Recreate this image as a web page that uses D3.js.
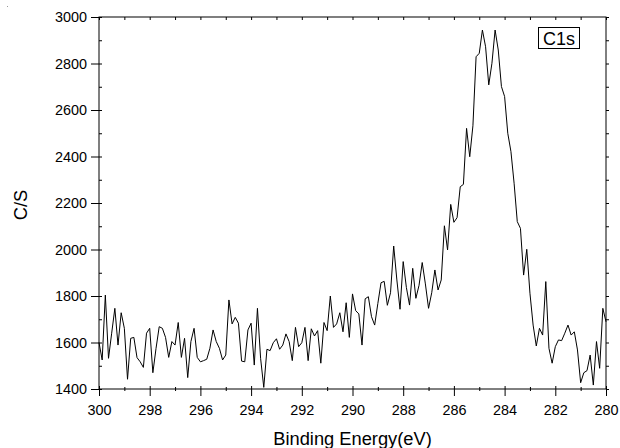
<!DOCTYPE html>
<html>
<head>
<meta charset="utf-8">
<script src="https://cdn.jsdelivr.net/npm/d3@7"></script>
<style>
  html, body { margin: 0; padding: 0; background: #fff; }
  svg { display: block; font-family: "Liberation Sans", Arial, sans-serif; }
</style>
</head>
<body>
<svg id="chart" width="620" height="448"></svg>
<script>
// C1s XPS spectrum: binding energy (eV) and counts per second
const energy = [
  300.000, 299.875, 299.750, 299.625, 299.500, 299.375, 299.250, 299.125, 299.000, 298.875,
  298.750, 298.625, 298.500, 298.375, 298.250, 298.125, 298.000, 297.875, 297.750, 297.625,
  297.500, 297.375, 297.250, 297.125, 297.000, 296.875, 296.750, 296.625, 296.500, 296.375,
  296.250, 296.125, 296.000, 295.875, 295.750, 295.625, 295.500, 295.375, 295.250, 295.125,
  295.000, 294.875, 294.750, 294.625, 294.500, 294.375, 294.250, 294.125, 294.000, 293.875,
  293.750, 293.625, 293.500, 293.375, 293.250, 293.125, 293.000, 292.875, 292.750, 292.625,
  292.500, 292.375, 292.250, 292.125, 292.000, 291.875, 291.750, 291.625, 291.500, 291.375,
  291.250, 291.125, 291.000, 290.875, 290.750, 290.625, 290.500, 290.375, 290.250, 290.125,
  290.000, 289.875, 289.750, 289.625, 289.500, 289.375, 289.250, 289.125, 289.000, 288.875,
  288.750, 288.625, 288.500, 288.375, 288.250, 288.125, 288.000, 287.875, 287.750, 287.625,
  287.500, 287.375, 287.250, 287.125, 287.000, 286.875, 286.750, 286.625, 286.500, 286.375,
  286.250, 286.125, 286.000, 285.875, 285.750, 285.625, 285.500, 285.375, 285.250, 285.125,
  285.000, 284.875, 284.750, 284.625, 284.500, 284.375, 284.250, 284.125, 284.000, 283.875,
  283.750, 283.625, 283.500, 283.375, 283.250, 283.125, 283.000, 282.875, 282.750, 282.625,
  282.500, 282.375, 282.250, 282.125, 282.000, 281.875, 281.750, 281.625, 281.500, 281.375,
  281.250, 281.125, 281.000, 280.875, 280.750, 280.625, 280.500, 280.375, 280.250, 280.125,
  280.000
];
const counts = [
  1600, 1525, 1804, 1532, 1640, 1747, 1589, 1728, 1661, 1442,
  1618, 1622, 1535, 1517, 1493, 1640, 1661, 1470, 1575, 1668,
  1661, 1622, 1536, 1604, 1589, 1686, 1536, 1618, 1449, 1604,
  1661, 1536, 1517, 1522, 1528, 1575, 1654, 1604, 1575, 1525,
  1546, 1783, 1680, 1708, 1683, 1520, 1517, 1654, 1683, 1503,
  1747, 1532, 1407, 1571, 1565, 1599, 1616, 1571, 1589, 1637,
  1604, 1522, 1665, 1582, 1599, 1665, 1522, 1659, 1628, 1651,
  1511, 1686, 1651, 1800, 1665, 1680, 1728, 1646, 1771, 1622,
  1809, 1737, 1723, 1589, 1788, 1797, 1711, 1675, 1768, 1857,
  1863, 1760, 1814, 2015, 1869, 1743, 1948, 1837, 1761, 1919,
  1790, 1846, 1944, 1852, 1747, 1814, 1912, 1826, 1869, 2102,
  1998, 2194, 2117, 2137, 2270, 2280, 2521, 2399, 2532, 2829,
  2844, 2944, 2872, 2708, 2801, 2944, 2858, 2701, 2658, 2500,
  2421, 2285, 2120, 2091, 1890, 2001, 1812, 1675, 1585, 1661,
  1632, 1862, 1575, 1511, 1582, 1611, 1608, 1640, 1675, 1632,
  1646, 1568, 1427, 1470, 1479, 1546, 1417, 1604, 1489, 1747,
  1689
];

const xMajor = [300, 298, 296, 294, 292, 290, 288, 286, 284, 282, 280];
const xMinor = [299, 297, 295, 293, 291, 289, 287, 285, 283, 281];
const yMajor = [1400, 1600, 1800, 2000, 2200, 2400, 2600, 2800, 3000];
const yMinor = [1500, 1700, 1900, 2100, 2300, 2500, 2700, 2900];
const xTitle = "Binding Energy(eV)";
const yTitle = "C/S";
const seriesName = "C1s";

const plotL = 99, plotR = 606, plotT = 17, plotB = 389;

const svg = d3.select("#chart");

const x = d3.scaleLinear().domain([300, 280]).range([plotL, plotR]);
const y = d3.scaleLinear().domain([1400, 3000]).range([plotB, plotT]);

const axisStyle = g => {
  g.select(".domain").remove();
  g.selectAll("line").attr("stroke", "#000").attr("stroke-width", 1);
  g.selectAll("text").attr("fill", "#000").attr("font-size", "14.4px")
    .attr("font-family", '"Liberation Sans", Arial, sans-serif');
};

// bottom axis: major ticks crossing the frame, labelled
const gxB = svg.append("g").attr("transform", `translate(0,${plotB})`)
  .call(d3.axisBottom(x).tickValues(xMajor).tickFormat(d3.format("d")).tickSize(7).tickPadding(9))
  .call(axisStyle);
gxB.selectAll(".tick line").attr("y1", -3);
svg.append("g").attr("transform", `translate(0,${plotB})`)
  .call(d3.axisBottom(x).tickValues(xMinor).tickFormat("").tickSize(2))
  .call(axisStyle)
  .selectAll(".tick line").attr("y1", -2);

// left axis
const gyL = svg.append("g").attr("transform", `translate(${plotL},0)`)
  .call(d3.axisLeft(y).tickValues(yMajor).tickFormat(d3.format("d")).tickSize(8).tickPadding(4))
  .call(axisStyle);
gyL.selectAll(".tick line").attr("x1", 3);
svg.append("g").attr("transform", `translate(${plotL},0)`)
  .call(d3.axisLeft(y).tickValues(yMinor).tickFormat("").tickSize(-3))
  .call(axisStyle);

// top and right mirror ticks
svg.append("g").attr("transform", `translate(0,${plotT})`)
  .call(d3.axisTop(x).tickValues(xMajor.concat(xMinor)).tickFormat("").tickSize(-3))
  .call(axisStyle);
svg.append("g").attr("transform", `translate(${plotR},0)`)
  .call(d3.axisRight(y).tickValues(yMajor.concat(yMinor)).tickFormat("").tickSize(3))
  .call(axisStyle);

// frame
svg.append("rect")
  .attr("x", plotL).attr("y", plotT)
  .attr("width", plotR - plotL).attr("height", plotB - plotT)
  .attr("fill", "none").attr("stroke", "#000").attr("stroke-width", 1);

// spectrum
const line = d3.line().x((d, i) => x(energy[i])).y(d => y(d));
svg.append("path")
  .datum(counts)
  .attr("d", line)
  .attr("fill", "none")
  .attr("stroke", "#000")
  .attr("stroke-width", 1)
  .attr("stroke-linejoin", "miter");

// axis titles
svg.append("text")
  .attr("x", (plotL + plotR) / 2).attr("y", 445)
  .attr("text-anchor", "middle")
  .attr("font-size", "18.3px")
  .attr("fill", "#000")
  .text(xTitle);

svg.append("text")
  .attr("transform", "translate(27,205) rotate(-90)")
  .attr("text-anchor", "middle")
  .attr("font-size", "18.3px")
  .attr("fill", "#000")
  .text(yTitle);

// legend box
const lg = svg.append("g");
lg.append("rect")
  .attr("x", 538.5).attr("y", 27.5).attr("width", 41).attr("height", 21)
  .attr("fill", "#fff").attr("stroke", "#000").attr("stroke-width", 1);
lg.append("text")
  .attr("x", 559).attr("y", 44.5)
  .attr("text-anchor", "middle")
  .attr("font-size", "18px")
  .attr("fill", "#000")
  .text(seriesName);

// small stray mark in the top-left corner
svg.append("rect").attr("x", 7).attr("y", 6).attr("width", 1).attr("height", 1).attr("fill", "#999");
</script>
</body>
</html>
